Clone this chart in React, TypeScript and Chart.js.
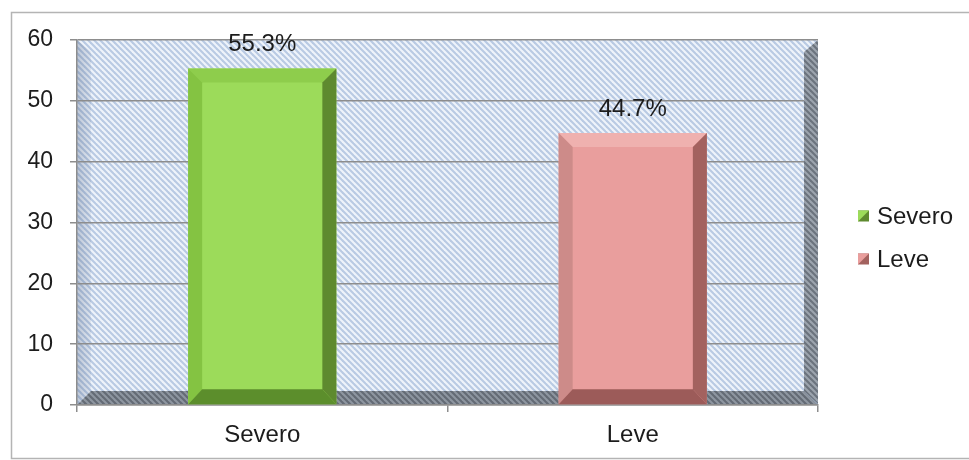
import { useEffect, useRef } from "react";
import { Chart, registerables } from "chart.js";

Chart.register(...registerables);

// Data
const categories = ["Severo", "Leve"];
const percentages = [55.3, 44.7];
const yMin = 0;
const yMax = 60;
const yStep = 10;

// Bar palette: face, top bevel, left bevel, right bevel, bottom bevel
const faceColors = ["#9cdb5a", "#e99e9d"];
const topBevel = ["#8ecd4c", "#efb1af"];
const leftBevel = ["#84c342", "#cd8b89"];
const rightBevel = ["#5e8a2f", "#a3625f"];
const bottomBevel = ["#5c8e2c", "#9c5b59"];

const FONT = "'Liberation Sans', Arial, Helvetica, sans-serif";
const GRID = "#8d8d8d";
const TEXT = "#1c1c1c";
const BEVEL = 14;
const DEPTH = 14;

function hatch(bg: string, line: string, lw: number): CanvasPattern | string {
  const t = document.createElement("canvas");
  t.width = 6;
  t.height = 6;
  const c = t.getContext("2d");
  if (!c) return bg;
  c.fillStyle = bg;
  c.fillRect(0, 0, 6, 6);
  c.strokeStyle = line;
  c.lineWidth = lw;
  for (const k of [-6, 0, 6]) {
    c.beginPath();
    c.moveTo(k - 1, -1);
    c.lineTo(k + 7, 7);
    c.stroke();
  }
  const p = c.createPattern(t, "repeat");
  return p ?? bg;
}

function poly(ctx: CanvasRenderingContext2D, pts: number[][], fill: string | CanvasPattern | CanvasGradient) {
  ctx.beginPath();
  ctx.moveTo(pts[0][0], pts[0][1]);
  for (let i = 1; i < pts.length; i++) ctx.lineTo(pts[i][0], pts[i][1]);
  ctx.closePath();
  ctx.fillStyle = fill;
  ctx.fill();
}

// Back wall, left wall and floor, painted under the grid
const wallsPlugin = {
  id: "walls",
  beforeDraw(chart: any) {
    const { ctx, chartArea: a } = chart;
    ctx.save();
    // outer frame
    ctx.strokeStyle = "#b4b4b4";
    ctx.lineWidth = 1.5;
    ctx.strokeRect(11.5, 12.5, chart.width + 20, chart.height - 14);

    const back = hatch("#eef3fa", "#b9cae3", 2.1);
    ctx.fillStyle = back;
    ctx.fillRect(a.left, a.top, a.right - a.left, a.bottom - a.top);

    // left side wall
    const lg = ctx.createLinearGradient(a.left, 0, a.left + DEPTH, 0);
    lg.addColorStop(0, "rgba(80,100,135,0.30)");
    lg.addColorStop(1, "rgba(80,100,135,0.10)");
    poly(ctx, [[a.left, a.top], [a.left + DEPTH, a.top + 12], [a.left + DEPTH, a.bottom - DEPTH], [a.left, a.bottom]], lg);

    // floor
    const floor = hatch("#8e96a0", "#646b75", 2.1);
    poly(ctx, [[a.left, a.bottom], [a.left + DEPTH, a.bottom - DEPTH], [a.right - DEPTH, a.bottom - DEPTH], [a.right, a.bottom]], floor);
    ctx.restore();
  },
  beforeDatasetsDraw(chart: any) {
    const { ctx, chartArea: a } = chart;
    ctx.save();
    // right side wall sits in front of the grid lines
    const side = hatch("#9ca4ae", "#6b737e", 2.1);
    poly(ctx, [[a.right - DEPTH, a.top + 12], [a.right, a.top], [a.right, a.bottom - 1], [a.right - DEPTH, a.bottom - DEPTH]], side);
    ctx.restore();
  },
};

// Bevelled faces and value labels on the bars
const barsPlugin = {
  id: "bevelBars",
  afterDatasetsDraw(chart: any) {
    const { ctx } = chart;
    const meta = chart.getDatasetMeta(0);
    ctx.save();
    meta.data.forEach((bar: any, i: number) => {
      const { x, y, base, width } = bar.getProps(["x", "y", "base", "width"], true);
      const l = x - width / 2;
      const r = x + width / 2;
      const t = y;
      const b = base;
      const k = BEVEL;
      poly(ctx, [[l, t], [r, t], [r - k, t + k], [l + k, t + k]], topBevel[i]);
      poly(ctx, [[l, t], [l + k, t + k], [l + k, b - k - 1], [l, b]], leftBevel[i]);
      poly(ctx, [[r, t], [r, b], [r - k, b - k - 1], [r - k, t + k]], rightBevel[i]);
      poly(ctx, [[l, b], [l + k, b - k - 1], [r - k, b - k - 1], [r, b]], bottomBevel[i]);

      ctx.fillStyle = TEXT;
      ctx.font = `24px ${FONT}`;
      ctx.textAlign = "center";
      ctx.textBaseline = "middle";
      ctx.fillText(`${percentages[i].toFixed(1)}%`, x, t - 24);
    });
    ctx.restore();
  },
};

// Legend at the right of the plot
const sideLegend = {
  id: "sideLegend",
  afterDraw(chart: any) {
    const { ctx, chartArea: a } = chart;
    ctx.save();
    const gap = 43;
    const cy0 = (a.top + a.bottom) / 2 + 15 - gap / 2;
    const bx = a.right + 40;
    ctx.font = `24px ${FONT}`;
    ctx.textAlign = "left";
    ctx.textBaseline = "middle";
    categories.forEach((name, i) => {
      const cy = cy0 + i * gap;
      ctx.fillStyle = rightBevel[i];
      ctx.fillRect(bx, cy - 5.5, 11, 11);
      poly(ctx, [[bx, cy - 5.5], [bx + 11, cy - 5.5], [bx, cy + 5.5]], faceColors[i]);
      ctx.fillStyle = TEXT;
      ctx.fillText(name, bx + 19, cy + 1);
    });
    ctx.restore();
  },
};

export default function App() {
  const ref = useRef<HTMLCanvasElement | null>(null);

  useEffect(() => {
    document.body.style.margin = "0";
    const canvas = ref.current;
    if (!canvas) return;
    const chart = new Chart(canvas, {
      type: "bar",
      data: {
        labels: categories,
        datasets: [
          {
            data: percentages,
            backgroundColor: faceColors,
            borderWidth: 0,
            barPercentage: 0.4,
            categoryPercentage: 1,
          },
        ],
      },
      options: {
        animation: false,
        responsive: false,
        devicePixelRatio: 1,
        layout: { padding: { left: 0, top: 40, right: 151, bottom: 0 } },
        scales: {
          x: {
            offset: true,
            grid: {
              display: true,
              drawOnChartArea: false,
              drawTicks: true,
              tickLength: 7,
              offset: true,
              color: GRID,
              lineWidth: 1.5,
            },
            border: { display: true, color: GRID, width: 1.5 },
            ticks: { color: TEXT, font: { family: FONT, size: 24 }, padding: 9 },
            afterFit: (s: any) => {
              s.height = 55;
            },
          },
          y: {
            min: yMin,
            max: yMax,
            ticks: { stepSize: yStep, color: TEXT, font: { family: FONT, size: 23 }, padding: 17 },
            grid: { color: GRID, lineWidth: 1.5, tickLength: 7 },
            border: { display: true, color: GRID, width: 1.5 },
            afterFit: (s: any) => {
              s.width = 77;
            },
          },
        },
        plugins: {
          legend: { display: false },
          tooltip: { enabled: false },
        },
      },
      plugins: [wallsPlugin, barsPlugin, sideLegend],
    });
    return () => chart.destroy();
  }, []);

  return (
    <div style={{ width: 969, height: 460, background: "#ffffff" }}>
      <canvas ref={ref} width={969} height={460} style={{ display: "block" }} />
    </div>
  );
}
